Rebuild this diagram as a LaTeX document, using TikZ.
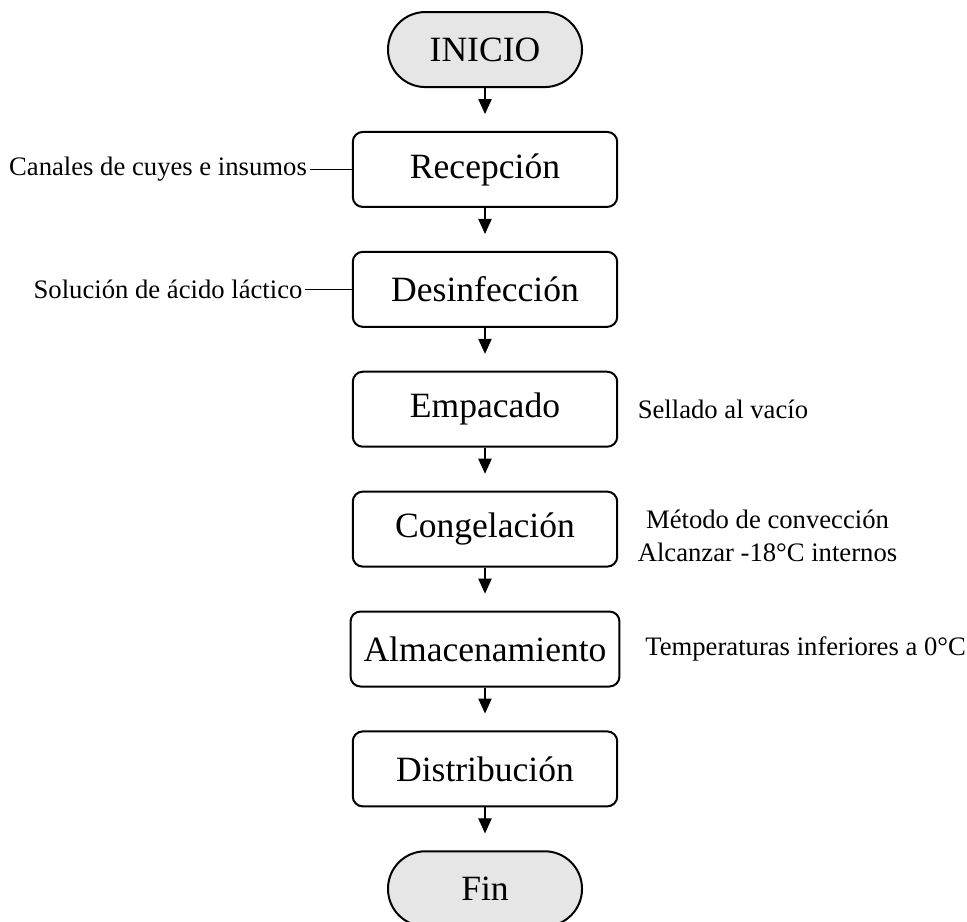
\documentclass[tikz,border=0pt]{standalone}
\usepackage{fontspec}
\setmainfont{Liberation Serif}
\usepackage{tikz}
\usetikzlibrary{arrows.meta,positioning}
\definecolor{termfill}{HTML}{E6E6E6}

\begin{document}
\begin{tikzpicture}[
  node distance=19.3pt,
  paso/.style={draw,line width=0.9pt,rounded corners=4.5pt,minimum height=33.75pt,
               minimum width=119pt,font=\fontsize{16}{19}\selectfont,align=center},
  term/.style={paso,fill=termfill,rounded corners=16.8pt,minimum width=87.3pt},
  nota/.style={font=\fontsize{12}{14.5}\selectfont,align=center,inner sep=1pt},
  flecha/.style={-{Triangle[length=6.75pt,width=6pt]},line width=0.5pt,shorten >=7.6pt}
]
  \useasboundingbox (-218.25pt,22.3pt) rectangle (216.9pt,-392.2pt);

  \node[term] (ini) {INICIO};
  \node[paso,below=of ini] (rec) {Recepción};
  \node[paso,below=of rec] (des) {Desinfección};
  \node[paso,below=of des] (emp) {Empacado};
  \node[paso,below=of emp] (con) {Congelación};
  \node[paso,below=of con,minimum width=121pt] (alm) {Almacenamiento};
  \node[paso,below=of alm] (dis) {Distribución};
  \node[term,below=of dis] (fin) {Fin};

  \node[nota,left=19pt of rec] (canales) {Canales de cuyes e insumos};
  \node[nota,left=21pt of des] (acido) {Solución de ácido láctico};
  \node[nota,right=7.6pt of emp] (sellado) {Sellado al vacío};
  \node[nota,right=7.6pt of con,yshift=-3pt] (conv) {Método de convección\\Alcanzar -18°C internos};
  \node[nota,right=10pt of alm] (temp) {Temperaturas inferiores a 0°C};

  \draw[flecha] (ini) -- (rec);
  \draw[flecha] (rec) -- (des);
  \draw[flecha] (des) -- (emp);
  \draw[flecha] (emp) -- (con);
  \draw[flecha] (con) -- (alm);
  \draw[flecha] (alm) -- (dis);
  \draw[flecha] (dis) -- (fin);
  \draw[line width=0.5pt] (canales) -- (rec);
  \draw[line width=0.5pt] (acido) -- (des);
\end{tikzpicture}
\end{document}
